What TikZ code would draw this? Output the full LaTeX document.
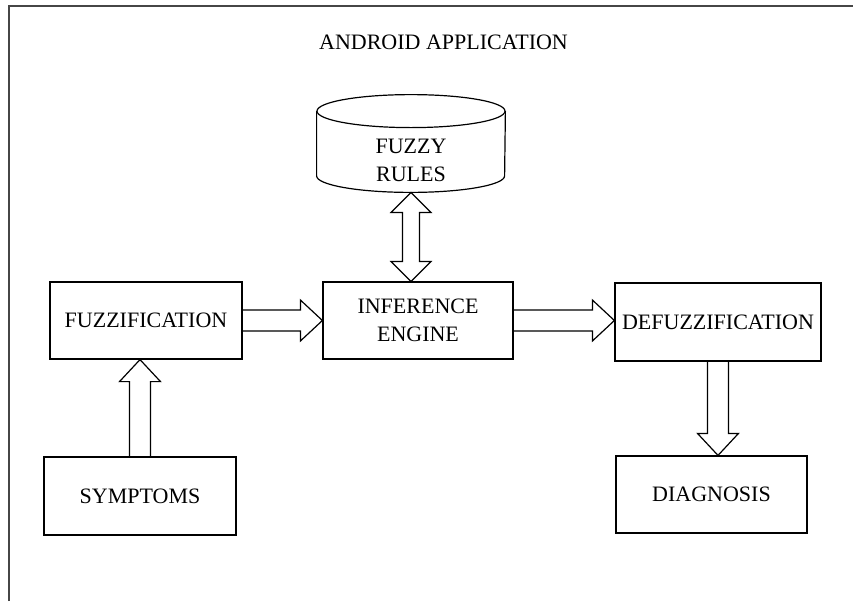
\documentclass[tikz,border=0pt]{standalone}
\usepackage{fontspec}
\setmainfont{Liberation Serif}
\usetikzlibrary{calc}
\definecolor{framegray}{RGB}{70,70,70}
% hollow block arrow from #1 (tail) to #2 (tip)
\newcommand\blockarrow[2]{%
  \coordinate (hb) at ($(#2)!11pt!(#1)$);
  \draw[hollow] ($(#1)!5.25pt!90:(#2)$) -- ($(hb)!5.25pt!90:(#2)$) -- ($(hb)!10.25pt!90:(#2)$) -- (#2)
    -- ($(hb)!10.25pt!-90:(#2)$) -- ($(hb)!5.25pt!-90:(#2)$) -- ($(#1)!5.25pt!-90:(#2)$);
}
% hollow double block arrow between #1 and #2
\newcommand\dblarrow[2]{%
  \coordinate (ha) at ($(#1)!10pt!(#2)$);
  \coordinate (hb) at ($(#2)!10pt!(#1)$);
  \draw[hollow] (#1) -- ($(ha)!10pt!90:(#2)$) -- ($(ha)!4.25pt!90:(#2)$) -- ($(hb)!4.25pt!90:(#2)$) -- ($(hb)!10pt!90:(#2)$) -- (#2)
    -- ($(hb)!10pt!-90:(#2)$) -- ($(hb)!4.25pt!-90:(#2)$) -- ($(ha)!4.25pt!-90:(#2)$) -- ($(ha)!10pt!-90:(#2)$) -- cycle;
}

\begin{document}
\begin{tikzpicture}[x=0.5pt,y=0.5pt,font=\fontsize{11}{14}\selectfont]
  \useasboundingbox (0,0) rectangle (853,-601);
  \tikzstyle{box}=[draw,rectangle,line width=0.6pt,inner sep=1pt,align=center,minimum height=38.5pt]
  \tikzstyle{hollow}=[line width=0.6pt,line join=miter]

  % frame (right and bottom edges lie outside the picture)
  \draw[framegray,line width=1pt] (8.5,-601) -- (8.5,-6) -- (853,-6);
  \node (title) at (443.5,-42) {ANDROID APPLICATION};

  \node[box,minimum width=96pt] (fuzz) at (146,-320.5) {FUZZIFICATION};
  \node[box,minimum width=95pt] (inf) at (418,-320.5) {INFERENCE\\ENGINE};
  \node[box,minimum width=103pt,minimum height=39pt] (defuzz) at (718,-322) {DEFUZZIFICATION};
  \node[box,minimum width=96pt,minimum height=39pt] (symp) at (140,-496) {SYMPTOMS};
  \node[box,minimum width=95.5pt] (diag) at (711.5,-494.5) {DIAGNOSIS};

  % fuzzy rules database
  \node[align=center,minimum width=94pt,minimum height=32pt,inner sep=0pt] (rules) at (411,-160) {FUZZY\\RULES};
  \draw[line width=0.6pt] ($(rules.north west)+(0,16.5)$) -- ($(rules.south west)+(0,16.5)$)
    arc[start angle=180,end angle=360,x radius=94,y radius=16.5] -- ($(rules.north east)+(0,16.5)$);
  \draw[line width=0.6pt] ($(rules.north)+(0,16.5)$) ellipse[x radius=94,y radius=16.5];

  \coordinate (t1) at (inf.east -| defuzz.west);
  \coordinate (t2) at (symp.north |- fuzz.south);
  \coordinate (t3) at (defuzz.south |- diag.north);
  \coordinate (t4) at (rules.south |- inf.north);

  \foreach \from/\to in {fuzz.east/inf.west, inf.east/t1, symp.north/t2, defuzz.south/t3}
    \blockarrow{\from}{\to};
  \dblarrow{rules.south}{t4};
\end{tikzpicture}
\end{document}
